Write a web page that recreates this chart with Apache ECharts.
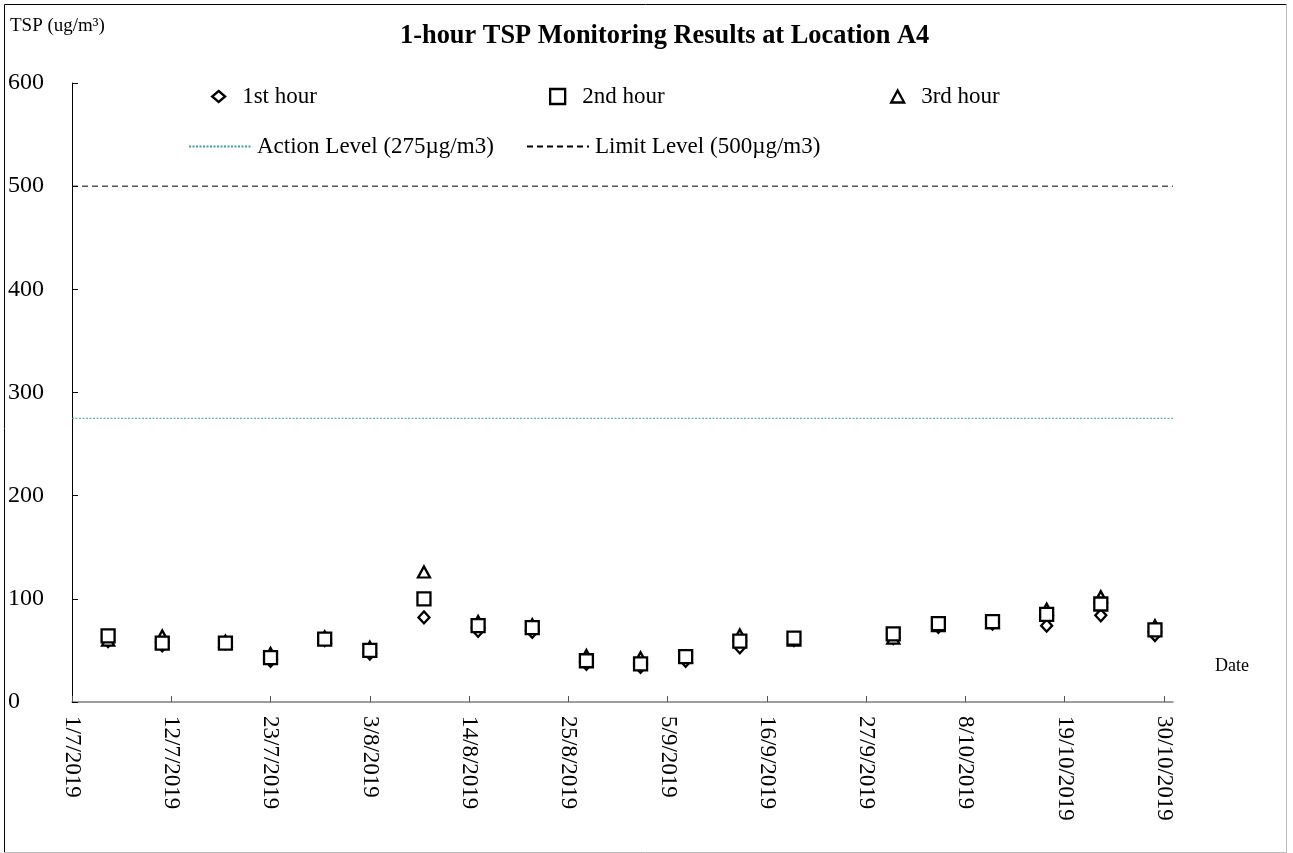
<!DOCTYPE html>
<html>
<head>
<meta charset="utf-8">
<title>1-hour TSP Monitoring Results at Location A4</title>
<script src="https://cdn.jsdelivr.net/npm/echarts@6/dist/echarts.min.js"></script>
<style>
  html, body { margin: 0; padding: 0; background: #fff; }
  #chart { width: 1293px; height: 853px; }
</style>
</head>
<body>
<div id="chart"></div>
<script>
// sampling dates (d/m/yyyy)
const sampleDates = ['5/7/2019', '11/7/2019', '18/7/2019', '23/7/2019', '29/7/2019', '3/8/2019',
  '9/8/2019', '15/8/2019', '21/8/2019', '27/8/2019', '2/9/2019', '7/9/2019', '13/9/2019',
  '19/9/2019', '30/9/2019', '5/10/2019', '11/10/2019', '17/10/2019', '23/10/2019', '29/10/2019']

// TSP readings, ug/m3
const hour1 = [59, 55, 57, 40, 60, 47, 82, 69, 68, 37, 34, 40, 53, 60, 62, 73, 76, 74, 84, 65]
const hour2 = [64, 57, 57, 43, 61, 50, 100, 74, 72, 40, 37, 44, 59, 62, 66, 76, 78, 85, 95, 70]
const hour3 = [60, 64, 59, 47, 63, 53, 126, 78, 75, 45, 43, 44, 65, 60, 62, 74, 77, 90, 102, 74]

const actionLevel = 275
const limitLevel = 500

// x axis tick labels
const tickLabels = ['1/7/2019', '12/7/2019', '23/7/2019', '3/8/2019', '14/8/2019', '25/8/2019',
  '5/9/2019', '16/9/2019', '27/9/2019', '8/10/2019', '19/10/2019', '30/10/2019']
const axisStart = '1/7/2019'
const axisEnd = '31/10/2019'

const FONT = '"Liberation Serif", "Times New Roman", serif'

// days since axisStart
function dayOf(s) {
  const p = s.split('/').map(Number)
  const q = axisStart.split('/').map(Number)
  return (Date.UTC(p[2], p[1] - 1, p[0]) - Date.UTC(q[2], q[1] - 1, q[0])) / 86400000
}

const tickDays = tickLabels.map(dayOf)
const labelByDay = {}
tickLabels.forEach((t, i) => { labelByDay[tickDays[i]] = t })
const xMax = dayOf(axisEnd)

const pts = arr => arr.map((v, i) => [dayOf(sampleDates[i]), v])

const markerStyle = { color: '#fff', borderColor: '#000', borderWidth: 2.3, opacity: 1 }
const legendText = { fontFamily: FONT, fontSize: 23, color: '#000', padding: [0, 0, 0, 12] }
const lineLegendText = { fontFamily: FONT, fontSize: 23, color: '#000', padding: [0, 0, 0, 1] }

const chart = echarts.init(document.getElementById('chart'))

const option = {
  animation: false,
  backgroundColor: '#fff',
  grid: { left: 72, right: 120, top: 83, bottom: 151, containLabel: false, outerBoundsMode: 'none' },
  xAxis: {
    type: 'value',
    min: 0,
    max: xMax,
    interval: 11,
    splitLine: { show: false },
    axisLine: { lineStyle: { color: '#7f7f7f', width: 1.5 } },
    axisTick: { inside: true, length: 6, customValues: tickDays, lineStyle: { color: '#555' } },
    axisLabel: {
      customValues: tickDays,
      rotate: -90,
      margin: 14,
      color: '#000',
      fontFamily: FONT,
      fontSize: 23,
      formatter: v => labelByDay[v] || ''
    }
  },
  yAxis: {
    type: 'value',
    min: 0,
    max: 600,
    interval: 100,
    splitLine: { show: false },
    axisLine: { show: true, lineStyle: { color: '#000', width: 1 } },
    axisTick: { show: true, inside: true, length: 6, lineStyle: { color: '#000' } },
    axisLabel: { align: 'left', margin: 64, color: '#000', fontFamily: FONT, fontSize: 24 }
  },
  legend: [
    { data: ['1st hour'], left: 211, top: 85, padding: 0, itemWidth: 13, itemHeight: 11,
      itemStyle: markerStyle, textStyle: legendText },
    { data: ['2nd hour'], left: 549, top: 85, padding: 0, itemWidth: 15, itemHeight: 15,
      itemStyle: markerStyle, textStyle: legendText },
    { data: ['3rd hour'], left: 890, top: 85, padding: 0, itemWidth: 13, itemHeight: 12,
      itemStyle: markerStyle, textStyle: legendText },
    { data: ['Action Level (275µg/m3)'], left: 188, top: 135, padding: 0, itemWidth: 62, itemHeight: 14,
      itemStyle: { opacity: 0 }, textStyle: lineLegendText },
    { data: ['Limit Level (500µg/m3)'], left: 526, top: 135, padding: 0, itemWidth: 62, itemHeight: 14,
      itemStyle: { opacity: 0 }, textStyle: lineLegendText }
  ],
  series: [
    {
      name: 'Action Level (275µg/m3)',
      type: 'line',
      symbol: 'none',
      data: [[0, actionLevel], [xMax, actionLevel]],
      lineStyle: { color: '#3aa3a3', width: 1, type: [2, 1.5] },
      itemStyle: { color: '#3aa3a3' },
      z: 1
    },
    {
      name: 'Limit Level (500µg/m3)',
      type: 'line',
      symbol: 'none',
      data: [[0, limitLevel], [xMax, limitLevel]],
      lineStyle: { color: '#000', width: 1, type: [6, 4] },
      itemStyle: { color: '#000' },
      z: 1
    },
    {
      name: '1st hour',
      type: 'scatter',
      symbol: 'diamond',
      symbolSize: [11, 12],
      itemStyle: markerStyle,
      data: pts(hour1),
      z: 2
    },
    {
      name: '3rd hour',
      type: 'scatter',
      symbol: 'triangle',
      symbolSize: [12, 11],
      itemStyle: markerStyle,
      data: pts(hour3),
      z: 3
    },
    {
      name: '2nd hour',
      type: 'scatter',
      symbol: 'rect',
      symbolSize: 13,
      itemStyle: markerStyle,
      data: pts(hour2),
      z: 4
    }
  ],
  graphic: [
    { type: 'line', shape: { x1: 4.5, y1: 4.5, x2: 1286.5, y2: 4.5 }, style: { stroke: '#000', lineWidth: 1 } },
    { type: 'line', shape: { x1: 4.5, y1: 4.5, x2: 4.5, y2: 852.5 }, style: { stroke: '#000', lineWidth: 1 } },
    { type: 'line', shape: { x1: 1286.5, y1: 4.5, x2: 1286.5, y2: 852.5 }, style: { stroke: '#bbb', lineWidth: 1 } },
    { type: 'line', shape: { x1: 4.5, y1: 852.5, x2: 1286.5, y2: 852.5 }, style: { stroke: '#bbb', lineWidth: 1 } },
    {
      type: 'text', left: 400, top: 23,
      style: { text: '1-hour TSP Monitoring Results at Location A4', font: 'bold 26.4px ' + FONT, fill: '#000' }
    },
    {
      type: 'text', left: 10, top: 17,
      style: { text: 'TSP (ug/m³)', font: '19px ' + FONT, fill: '#000' }
    },
    {
      type: 'text', left: 1215, top: 657,
      style: { text: 'Date', font: '18px ' + FONT, fill: '#000' }
    }
  ]
}

chart.setOption(option)
</script>
</body>
</html>
